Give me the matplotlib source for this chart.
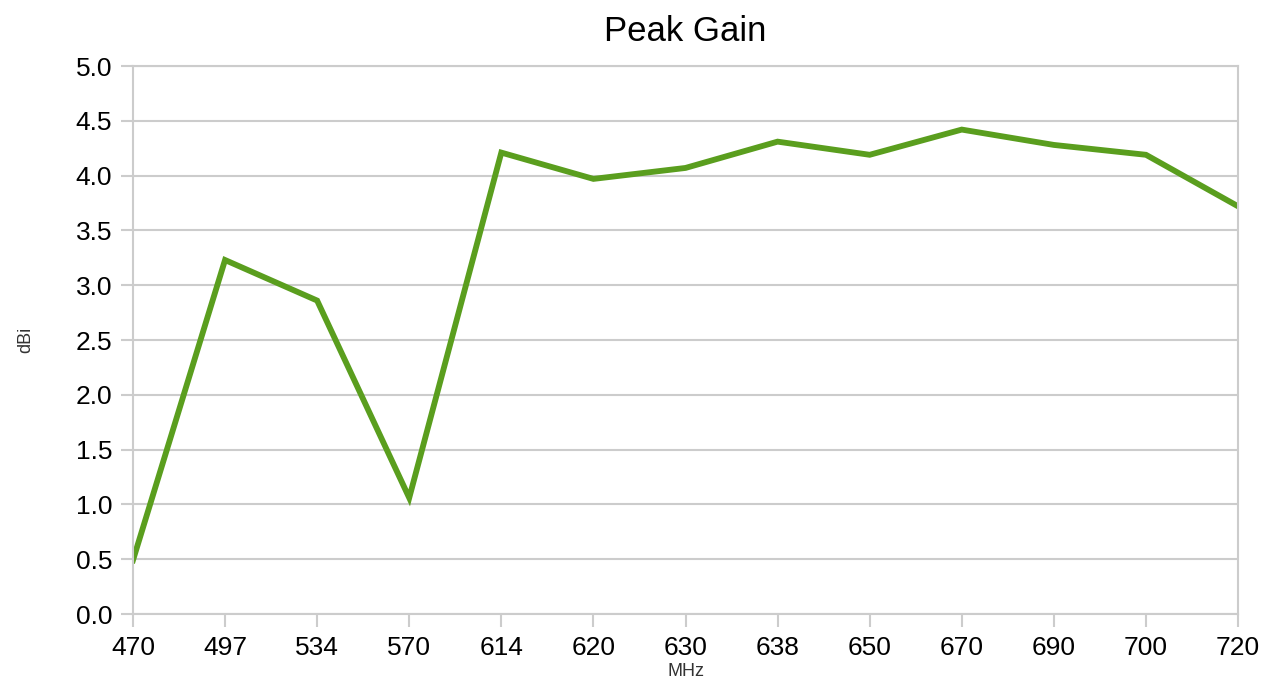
import matplotlib
matplotlib.use("Agg")
import matplotlib.pyplot as plt

plt.rcParams['font.family'] = ['Liberation Sans', 'DejaVu Sans']

# frequency points (MHz) and peak gain (dBi)
freqs = ['470', '497', '534', '570', '614', '620', '630', '638', '650', '670', '690', '700', '720']
gain = [0.49, 3.23, 2.86, 1.06, 4.21, 3.97, 4.07, 4.31, 4.19, 4.42, 4.28, 4.19, 3.72]

fig = plt.figure(figsize=(12.65, 6.82), dpi=100)
ax = fig.add_axes([0.1051, 0.0997, 0.8736, 0.8035])

x = list(range(len(freqs)))
ax.plot(x, gain, color='#5a9e1e', linewidth=4.2, solid_joinstyle='miter')

ax.set_xlim(0, len(freqs) - 1)
ax.set_ylim(0, 5)
ax.set_xticks(x)
ax.set_xticklabels(freqs)
ax.set_yticks([i * 0.5 for i in range(11)])
ax.set_yticklabels(['%.1f' % (i * 0.5) for i in range(11)])

ax.grid(axis='y', color='#cccccc', linewidth=1.5)
ax.set_axisbelow(True)
for s in ax.spines.values():
    s.set_color('#cccccc')
    s.set_linewidth(1.5)
ax.tick_params(axis='both', colors='#cccccc', labelcolor='black', labelsize=19,
               length=9, width=1.5)
ax.tick_params(axis='x', pad=7)
ax.tick_params(axis='y', pad=6)

ax.set_title('Peak Gain', fontsize=25, pad=18)
ax.set_xlabel('MHz', fontsize=13, color='#333333', labelpad=2)
ax.set_ylabel('dBi', fontsize=13, color='#333333', labelpad=30)

fig.savefig('out.png', dpi=100)
